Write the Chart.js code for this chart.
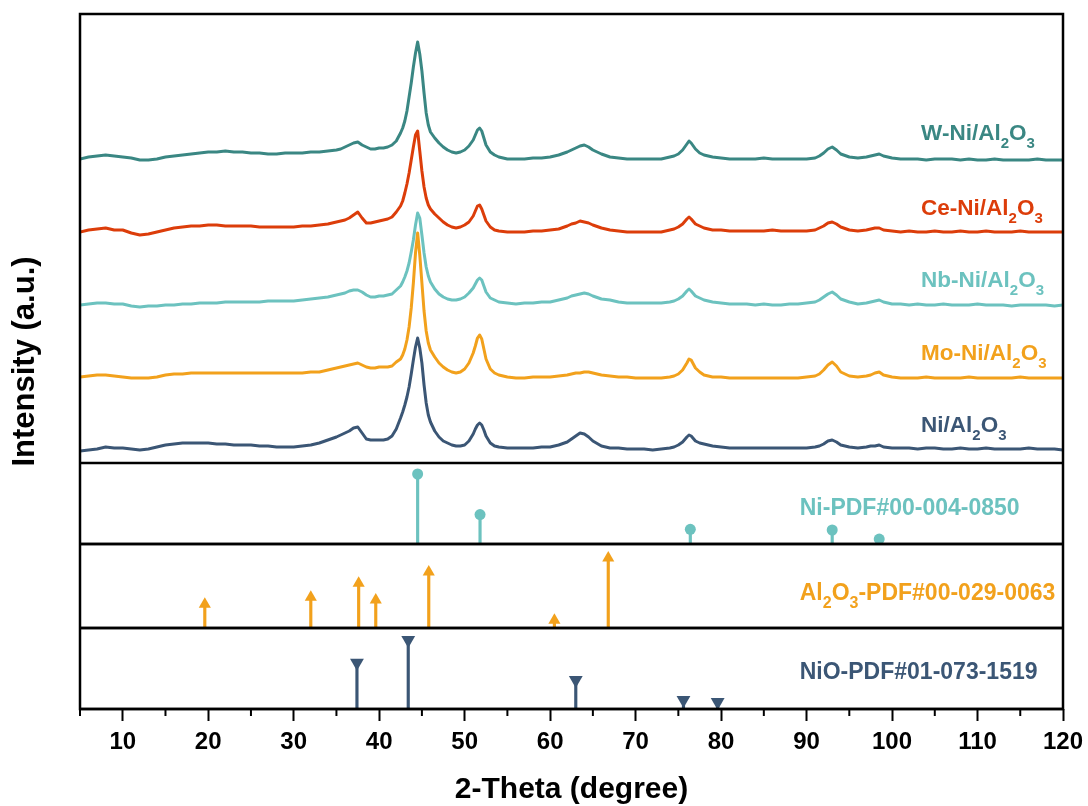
<!DOCTYPE html>
<html>
<head>
<meta charset="utf-8">
<title>XRD patterns</title>
<script src="https://cdn.jsdelivr.net/npm/chart.js@4/dist/chart.umd.min.js"></script>
<style>
  html, body { margin: 0; padding: 0; background: #ffffff; }
  #wrap { width: 1088px; height: 806px; position: relative; }
</style>
</head>
<body>
<div id="wrap"><canvas id="xrd"></canvas></div>
<script>
// 2-theta sampling (degrees); denser around the reflections
const twoTheta = [
  5,6,7,8,9,10,11,12,13,14,15,16,17,18,19,20,21,22,23,24,25,26,27,28,29,30,31,32,33,34,
  35,35.5,36,36.5,37,37.5,38,38.5,39,39.5,40,40.5,41,41.5,42,
  42.5,42.75,43,43.25,43.5,43.75,44,44.25,44.5,44.75,45,45.25,45.5,45.75,46,
  46.5,47,47.5,48,48.5,49,49.5,50,50.5,51,51.25,51.5,51.75,52,52.25,52.5,53,53.5,54,
  55,56,57,58,59,60,61,62,62.5,63,63.5,64,64.5,65,66,67,68,69,70,71,72,73,74,
  74.5,75,75.5,76,76.25,76.5,77,77.5,78,79,80,81,82,83,84,85,86,87,88,89,90,91,
  91.5,92,92.5,93,93.5,94,95,96,97,97.5,98,98.5,99,100,
  101,102,103,104,105,106,107,108,109,110,111,112,113,114,115,116,117,118,119,120
];

// Stacked intensities (a.u.), top to bottom
const wNi = [
  304,306,307,308,307,306,305,303,303,304,306,307,308,309,310,311,311,312,311,311,310,310,309,309,310,310,310,311,311,312,
  313,314,316,318,320,321,318,316,314,314,315,315,316,318,322,
  330,335,342,352,366,380,396,410,421,409,392,370,350,338,331,
  325,320,316,313,311,310,311,313,317,323,328,333,335,332,325,318,311,308,306,
  304,304,304,305,305,306,308,311,313,315,317,318,316,313,309,306,305,304,304,304,304,304,306,
  307,309,313,319,322,320,314,310,308,306,305,304,304,304,304,305,304,304,304,304,304,305,
  307,310,314,316,313,309,306,305,306,307,308,309,307,305,
  304,304,304,303,304,304,304,303,304,303,303,304,303,303,303,303,304,303,303,303
];
const ceNi = [
  231,233,234,235,233,233,230,228,229,231,233,235,236,237,237,238,238,237,237,237,237,236,236,236,236,236,237,237,238,239,
  241,242,243,245,248,251,245,240,240,241,242,243,244,246,251,
  257,262,270,279,290,303,316,328,332,312,292,276,265,258,254,
  249,245,241,238,236,235,236,238,241,247,252,257,258,254,248,242,236,233,232,
  231,231,231,232,232,233,234,237,239,240,242,241,240,238,235,233,232,231,231,231,231,231,233,
  234,236,239,244,246,244,239,237,235,233,233,232,232,232,232,232,233,232,232,232,232,233,
  235,237,240,241,239,236,233,232,233,234,235,235,233,232,
  231,232,231,231,232,231,231,232,231,231,232,231,231,231,232,231,231,231,231,231
];
const nbNi = [
  158,159,160,160,159,159,157,156,157,157,158,158,159,159,160,160,160,161,161,161,161,161,162,162,162,162,163,164,165,166,
  168,169,170,172,173,173,171,168,166,166,167,167,168,169,173,
  177,181,186,192,200,211,223,238,250,245,228,210,196,187,181,
  174,169,166,164,163,163,164,166,170,175,179,183,185,183,177,171,165,163,161,
  160,159,160,160,161,161,163,165,167,168,169,170,169,167,164,163,161,160,160,160,160,160,161,
  162,164,167,172,174,172,167,165,163,161,160,159,159,159,158,159,158,158,159,159,160,161,
  163,166,169,171,168,164,161,159,160,161,162,163,161,159,
  159,158,159,158,158,159,158,158,158,159,158,158,158,157,158,158,158,158,157,158
];
const moNi = [
  86,87,88,88,87,86,85,85,85,86,88,89,89,90,90,90,90,90,90,90,90,90,90,90,90,90,90,91,91,93,
  95,96,97,98,99,100,98,96,95,95,96,96,96,97,101,
  104,108,114,123,136,155,180,210,230,208,180,152,132,120,113,
  106,100,96,93,91,90,91,94,100,110,117,125,128,124,114,104,94,90,88,
  86,85,85,86,86,86,87,88,89,90,90,91,91,90,88,87,86,86,85,85,85,85,86,
  87,89,93,100,104,103,95,91,88,86,86,85,85,85,85,85,85,85,85,85,86,87,
  89,93,98,101,97,91,87,86,87,88,90,91,88,86,
  85,85,85,86,85,85,85,85,86,85,85,85,85,85,86,85,85,85,85,85
];
const niAl = [
  12,13,14,16,15,15,14,13,14,16,18,19,20,20,20,20,19,19,18,18,18,17,17,16,16,16,17,18,20,23,
  26,28,30,32,35,36,30,24,23,23,23,23,24,27,34,
  45,51,58,66,76,89,103,116,125,115,100,78,60,48,41,
  32,26,22,20,18,17,17,18,22,29,34,38,40,38,33,27,20,17,16,
  15,15,15,15,16,16,18,21,24,27,30,29,26,22,17,15,15,14,14,14,13,14,15,
  16,18,21,26,28,27,22,20,19,17,16,15,15,15,15,15,15,15,15,15,15,16,
  17,19,22,23,21,18,16,15,16,17,17,18,16,15,
  15,15,14,15,15,14,14,15,14,14,15,14,14,14,14,15,14,14,14,13
];

const sampleNames  = ['W-Ni/Al_2O_3', 'Ce-Ni/Al_2O_3', 'Nb-Ni/Al_2O_3', 'Mo-Ni/Al_2O_3', 'Ni/Al_2O_3'];
const sampleColors = ['#3a8783', '#dc3d0a', '#6cc2bf', '#f2a11c', '#3b5675'];
const sampleData   = [wNi, ceNi, nbNi, moNi, niAl];
// name tags: 2-theta position and height on the intensity axis
const sampleTagX = 103.4;
const sampleTagY = [323, 248, 176, 103, 31];

// Reference patterns (relative intensity, %)
const niPos  = [44.5, 51.8, 76.4, 93.0, 98.5];
const niInt  = [100, 42, 21, 20, 7];
const alPos  = [19.6, 32.0, 37.6, 39.6, 45.8, 60.5, 66.8];
const alInt  = [34, 44, 64, 40, 80, 11, 100];
const nioPos = [37.4, 43.4, 63.0, 75.6, 79.6];
const nioInt = [67, 100, 42, 13, 10];

const refNames  = ['Ni-PDF#00-004-0850', 'Al_2O_3-PDF#00-029-0063', 'NiO-PDF#01-073-1519'];
const refColors = ['#6cc2bf', '#f2a11c', '#3b5675'];
const refAxes   = ['yNi', 'yAl', 'yNiO'];
const refTagX = 89.2;
const refTagY = [41.4, 40, 43.5];

// labelled (major) and unlabelled (minor) 2-theta ticks
const xTicks = [10, 20, 30, 40, 50, 60, 70, 80, 90, 100, 110, 120];
const xMinorTicks = [5, 15, 25, 35, 45, 55, 65, 75, 85, 95, 105, 115];

const FONT = '"Liberation Sans", Arial, Helvetica, sans-serif';
Chart.defaults.font.family = FONT;
Chart.defaults.color = '#000';

const pts = (xs, ys) => xs.map((x, i) => ({ x: x, y: ys[i] }));

const datasets = [];
sampleData.forEach((arr, i) => {
  datasets.push({
    type: 'line',
    label: sampleNames[i],
    data: pts(twoTheta, arr),
    yAxisID: 'y',
    borderColor: sampleColors[i],
    borderWidth: 3,
    pointRadius: 0,
    tension: 0,
    borderJoinStyle: 'round',
    order: i === 2 ? 6 : 5
  });
});

const refSets = [
  { pos: niPos,  val: niInt,  style: 'circle',   rot: 0,   r: 5.5 },
  { pos: alPos,  val: alInt,  style: 'triangle', rot: 0,   r: 7 },
  { pos: nioPos, val: nioInt, style: 'triangle', rot: 180, r: 8 }
];
refSets.forEach((ref, i) => {
  datasets.push({
    type: 'bar',
    label: refNames[i] + ' stems',
    data: pts(ref.pos, ref.val),
    yAxisID: refAxes[i],
    backgroundColor: refColors[i],
    borderWidth: 0,
    barThickness: 2.5,
    grouped: false,
    order: 3
  });
  datasets.push({
    type: 'line',
    label: refNames[i],
    data: pts(ref.pos, ref.val),
    yAxisID: refAxes[i],
    showLine: false,
    pointStyle: ref.style,
    pointRotation: ref.rot,
    pointRadius: ref.r,
    pointBackgroundColor: refColors[i],
    pointBorderColor: refColors[i],
    pointBorderWidth: 0,
    order: 1
  });
});

// text with "_x" marking a subscript character
function drawTagged(ctx, text, x, y, color, size) {
  const parts = [];
  for (let i = 0; i < text.length; i++) {
    if (text[i] === '_' && i + 1 < text.length) { parts.push({ t: text[i + 1], sub: true }); i++; }
    else if (parts.length && !parts[parts.length - 1].sub) parts[parts.length - 1].t += text[i];
    else parts.push({ t: text[i], sub: false });
  }
  ctx.save();
  ctx.fillStyle = color;
  ctx.textBaseline = 'alphabetic';
  ctx.textAlign = 'left';
  let cx = x;
  parts.forEach(p => {
    ctx.font = 'bold ' + (p.sub ? Math.round(size * 0.68) : size) + 'px ' + FONT;
    ctx.fillText(p.t, cx, p.sub ? y + size * 0.34 : y);
    cx += ctx.measureText(p.t).width;
  });
  ctx.restore();
}

const framePlugin = {
  id: 'panelFrame',
  afterDatasetsDraw(chart) {
    const { ctx, chartArea: a, scales } = chart;
    ctx.save();
    ctx.strokeStyle = '#000';
    ctx.lineWidth = 2.5;
    ctx.strokeRect(a.left, a.top, a.right - a.left, a.bottom - a.top);
    refAxes.forEach(id => {
      const s = scales[id];
      [s.top, s.bottom].forEach(yy => {
        ctx.beginPath();
        ctx.moveTo(a.left, yy);
        ctx.lineTo(a.right, yy);
        ctx.stroke();
      });
    });
    // short minor ticks below the 2-theta axis
    ctx.lineWidth = 2;
    xMinorTicks.forEach(v => {
      const px = scales.x.getPixelForValue(v);
      ctx.beginPath();
      ctx.moveTo(px, a.bottom);
      ctx.lineTo(px, a.bottom + 7);
      ctx.stroke();
    });
    ctx.restore();
  },
  afterDraw(chart) {
    const { ctx, chartArea: a, scales } = chart;
    sampleNames.forEach((n, i) => {
      drawTagged(ctx, n, scales.x.getPixelForValue(sampleTagX), scales.y.getPixelForValue(sampleTagY[i]), sampleColors[i], 22.5);
    });
    refNames.forEach((n, i) => {
      drawTagged(ctx, n, scales.x.getPixelForValue(refTagX), scales[refAxes[i]].getPixelForValue(refTagY[i]), refColors[i], 23);
    });
    // shared intensity title, centred on the whole stack of panels
    ctx.save();
    ctx.translate(25, (a.top + a.bottom) / 2);
    ctx.rotate(-Math.PI / 2);
    ctx.font = 'bold 31px ' + FONT;
    ctx.fillStyle = '#000';
    ctx.textAlign = 'center';
    ctx.textBaseline = 'middle';
    ctx.fillText('Intensity (a.u.)', 0, 0);
    ctx.restore();
  }
};

const hiddenY = (min, max, weight) => ({
  type: 'linear', position: 'left', stack: 'xrd', stackWeight: weight,
  min: min, max: max, offset: false,
  grid: { display: false, drawTicks: false },
  border: { display: false },
  ticks: { display: false }
});

new Chart(document.getElementById('xrd'), {
  type: 'line',
  data: { datasets },
  options: {
    responsive: true,
    maintainAspectRatio: false,
    animation: false,
    events: [],
    layout: { padding: { left: 80, right: 25, top: 14, bottom: 0 } },
    plugins: { legend: { display: false }, tooltip: { enabled: false } },
    scales: {
      x: {
        type: 'linear', min: 5, max: 120, offset: false,
        border: { display: false },
        grid: { display: true, offset: false, drawOnChartArea: false, drawTicks: true, tickLength: 12, tickWidth: 2, tickColor: '#000' },
        afterBuildTicks: (s) => { s.ticks = xTicks.map(v => ({ value: v })); },
        ticks: {
          autoSkip: false, maxRotation: 0, padding: 0, color: '#000',
          font: { size: 24, weight: 'bold', lineHeight: 1.75 }
        },
        title: {
          display: true, text: '2-Theta (degree)', color: '#000',
          font: { size: 30, weight: 'bold', lineHeight: 1 },
          padding: { top: 12, bottom: 1 }
        }
      },
      yNiO: hiddenY(0, 117.4, 81),
      yAl: hiddenY(0, 120, 84),
      yNi: hiddenY(0, 115.7, 81),
      y: hiddenY(0, 449, 449)
    }
  },
  plugins: [framePlugin]
});
</script>
</body>
</html>
